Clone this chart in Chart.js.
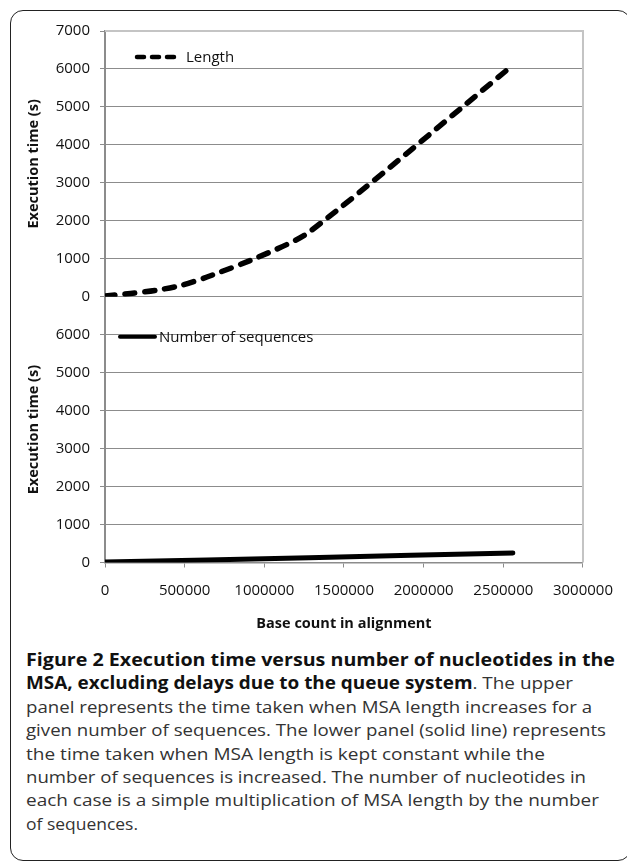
<!DOCTYPE html>
<html>
<head>
<meta charset="utf-8">
<script src="https://cdn.jsdelivr.net/npm/chart.js@4.4.0/dist/chart.umd.min.js"></script>
<style>
  html, body { margin: 0; padding: 0; background: #fff; overflow: hidden; }
  #page { width: 627px; height: 864px; position: relative; overflow: hidden; font-family: 'Open Sans', sans-serif; }
  .frame { position: absolute; left: 10px; top: 10px; width: 619px; height: 849px; border: 1.5px solid #222; border-radius: 13px; }
  #plot { position: absolute; left: 0; top: 0; }
  .caption { position: absolute; left: 26px; top: 648px; font-size: 17px; line-height: 23.4px; color: #333; }
  .caption div { white-space: nowrap; transform-origin: 0 50%; width: max-content; }
  .caption b { color: #111; }
</style>
</head>
<body>
<div id="page">
  <div class="frame"></div>
  <canvas id="plot" width="627" height="640"></canvas>
  <div class="caption" id="caption"></div>
</div>
<script>
// upper panel: MSA length grows, sequence count fixed
const lengthBases = [0, 160000, 320000, 480000, 640000, 960000, 1280000, 2560000];
const lengthSeconds = [20, 85, 170, 300, 520, 1040, 1700, 6100];

// lower panel: sequence count grows, MSA length fixed
const seqBases = [0, 640000, 1280000, 1920000, 2560000];
const seqSeconds = [10, 65, 125, 190, 250];

const xTickValues = [0, 500000, 1000000, 1500000, 2000000, 2500000, 3000000];
const topTickValues = [0, 1000, 2000, 3000, 4000, 5000, 6000, 7000];
const bottomTickValues = [0, 1000, 2000, 3000, 4000, 5000, 6000];

const seriesNames = ['Length', 'Number of sequences'];

const captionLines = [
  '<b>Figure 2 Execution time versus number of nucleotides in the</b>',
  '<b>MSA, excluding delays due to the queue system</b>. The upper',
  'panel represents the time taken when MSA length increases for a',
  'given number of sequences. The lower panel (solid line) represents',
  'the time taken when MSA length is kept constant while the',
  'number of sequences is increased. The number of nucleotides in',
  'each case is a simple multiplication of MSA length by the number',
  'of sequences.'
];
const captionWidths = [589, 547, 566, 580, 519, 560, 573, 112];

const GRID = '#8c8c8c';
const FRAME = '#c4c4c4';

Chart.defaults.font.family = "'Open Sans', sans-serif";
Chart.defaults.font.size = 15;
Chart.defaults.color = '#111';

const toPoints = (xs, ys) => xs.map((x, i) => ({ x: x, y: ys[i] }));
const fixedTicks = values => scale => { scale.ticks = values.map(v => ({ value: v })); };

function yAxis(values, hideTop) {
  return {
    type: 'linear',
    position: 'left',
    stack: 'panels',
    stackWeight: 1,
    min: 0,
    max: 7000,
    afterBuildTicks: fixedTicks(values),
    afterFit: scale => { scale.width = 85; },
    ticks: { padding: 10, callback: v => String(v) },
    grid: {
      color: c => (hideTop && c.tick && c.tick.value === 7000) ? 'rgba(0,0,0,0)' : GRID,
      tickColor: GRID,
      tickLength: 5,
      lineWidth: 1
    },
    border: { color: GRID, width: 2 },
    title: {
      display: true,
      text: 'Execution time (s)',
      font: { size: 14.5, weight: 'bold' },
      padding: { top: 5, bottom: 0 }
    }
  };
}

// light frame along the top and right of the plot, with legends drawn inside each panel
const panelDecor = {
  id: 'panelDecor',
  beforeDatasetsDraw(chart) {
    const { ctx, chartArea } = chart;
    ctx.save();
    ctx.strokeStyle = FRAME;
    ctx.lineWidth = 2;
    ctx.beginPath();
    ctx.moveTo(chartArea.left, chartArea.top);
    ctx.lineTo(chartArea.right, chartArea.top);
    ctx.lineTo(chartArea.right, chartArea.bottom);
    ctx.stroke();
    ctx.restore();
  },
  afterDatasetsDraw(chart) {
    const { ctx, chartArea } = chart;
    const spots = [
      { scale: chart.scales.yTop, x0: 32, x1: 77, dy: 26, w: 4.5 },
      { scale: chart.scales.yBottom, x0: 15, x1: 50, dy: 40, w: 4 }
    ];
    ctx.save();
    spots.forEach((s, i) => {
      const ds = chart.data.datasets[i];
      const y = s.scale.top + s.dy;
      ctx.strokeStyle = ds.borderColor;
      ctx.lineWidth = s.w;
      ctx.lineCap = ds.borderCapStyle || 'butt';
      ctx.setLineDash(ds.borderDash ? [7, 8] : []);
      ctx.beginPath();
      ctx.moveTo(chartArea.left + s.x0, y);
      ctx.lineTo(chartArea.left + s.x1, y);
      ctx.stroke();
      ctx.setLineDash([]);
      ctx.fillStyle = '#111';
      ctx.font = "15px 'Open Sans', sans-serif";
      ctx.textBaseline = 'middle';
      ctx.textAlign = 'left';
      ctx.fillText(ds.label, chartArea.left + s.x1 + 4, y + 1);
    });
    ctx.restore();
  }
};

new Chart(document.getElementById('plot'), {
  type: 'line',
  data: {
    datasets: [
      {
        label: seriesNames[0],
        data: toPoints(lengthBases, lengthSeconds),
        yAxisID: 'yTop',
        borderColor: '#000',
        borderWidth: 5.5,
        borderDash: [10, 10],
        borderCapStyle: 'round',
        pointRadius: 0,
        tension: 0.25
      },
      {
        label: seriesNames[1],
        data: toPoints(seqBases, seqSeconds),
        yAxisID: 'yBottom',
        borderColor: '#000',
        borderWidth: 5,
        borderCapStyle: 'round',
        pointRadius: 0,
        tension: 0
      }
    ]
  },
  options: {
    responsive: false,
    animation: false,
    layout: { padding: { left: 20, right: 32, top: 31, bottom: 7.5 } },
    plugins: { legend: { display: false }, tooltip: { enabled: false } },
    scales: {
      x: {
        type: 'linear',
        min: 0,
        max: 3000000,
        afterBuildTicks: fixedTicks(xTickValues),
        afterFit: scale => { scale.height = 70; },
        ticks: { padding: 14, maxRotation: 0, callback: v => String(v) },
        grid: { drawOnChartArea: false, tickColor: GRID, tickLength: 5 },
        border: { color: GRID, width: 1.5 },
        title: {
          display: true,
          text: 'Base count in alignment',
          font: { size: 14.5, weight: 'bold' },
          padding: { top: 0, bottom: 0 }
        }
      },
      yBottom: yAxis(bottomTickValues, false),
      yTop: yAxis(topTickValues, true)
    }
  },
  plugins: [panelDecor]
});

const cap = document.getElementById('caption');
captionLines.forEach((html, i) => {
  const line = document.createElement('div');
  line.innerHTML = html;
  cap.appendChild(line);
  const natural = line.getBoundingClientRect().width;
  line.style.transform = 'scaleX(' + (captionWidths[i] / natural).toFixed(4) + ')';
});
</script>
</body>
</html>
